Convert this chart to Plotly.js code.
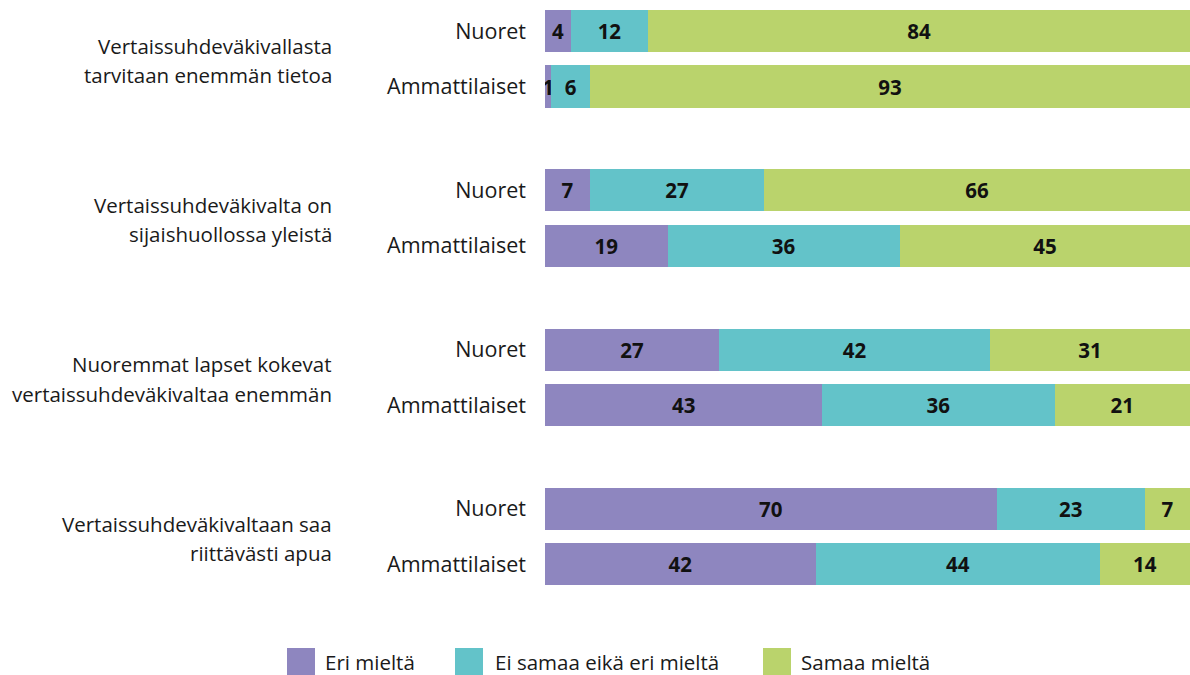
<!DOCTYPE html>
<html>
<head>
<meta charset="utf-8">
<script src="https://cdn.plot.ly/plotly-3.0.1.min.js"></script>
<style>html,body{margin:0;padding:0;background:#fff;}#chart{width:1190px;height:675px;}</style>
</head>
<body>
<div id="chart"></div>
<script>
// ---- Data ----
const statements = [
  "Vertaissuhdeväkivallasta<br>tarvitaan enemmän tietoa",
  "Vertaissuhdeväkivalta on<br>sijaishuollossa yleistä",
  "Nuoremmat lapset kokevat<br>vertaissuhdeväkivaltaa enemmän",
  "Vertaissuhdeväkivaltaan saa<br>riittävästi apua"
];
const respondents = ["Nuoret", "Ammattilaiset"];
const seriesNames = ["Eri mieltä", "Ei samaa eikä eri mieltä", "Samaa mieltä"];
const eriMielta = [4, 1, 7, 19, 27, 43, 70, 42];
const eiSamaaEikaEri = [12, 6, 27, 36, 42, 36, 23, 44];
const samaaMielta = [84, 93, 66, 45, 31, 21, 7, 14];
const seriesColors = ["#8e86bf", "#63c3c9", "#bad36c"];

// ---- Layout helpers ----
const W = 1190, H = 675;
const mL = 545, mR = 0, mT = 0, mB = 75;
const plotW = W - mL - mR, plotH = H - mT - mB;
const groupStep = 2.87;
const unitPx = 55.5;
const fontFam = "Open Sans, DejaVu Sans, sans-serif";
const labelSize = 20.5;

const yPos = [], yText = [];
statements.forEach((s, g) => {
  respondents.forEach((r, k) => {
    yPos.push(g * groupStep + k);
    yText.push(r);
  });
});
const topPad = 31 / unitPx;
const yRange = [(plotH - 31) / unitPx, -topPad];

const px2x = px => (px - mL) / plotW;
const px2y = py => 1 - (py - mT) / plotH;

const seriesData = [eriMielta, eiSamaaEikaEri, samaaMielta];
const traces = seriesData.map((vals, i) => ({
  type: "bar",
  orientation: "h",
  name: seriesNames[i],
  x: vals,
  y: yPos,
  width: 0.757,
  marker: {color: seriesColors[i], line: {width: 0}},
  text: vals.map(String),
  textposition: "inside",
  insidetextanchor: "middle",
  textangle: 0,
  constraintext: "none",
  textfont: {family: fontFam, size: 20.5, color: "#111", weight: "bold"},
  hoverinfo: "skip",
  showlegend: false
}));

// group labels: one annotation per line, 30px line spacing
const annotations = [];
const lineGap = 29.5 / unitPx;
statements.forEach((s, g) => {
  const lines = s.split("<br>");
  const mid = g * groupStep + 0.5 + 0.03;
  lines.forEach((ln, j) => {
    annotations.push({
      xref: "paper", yref: "y",
      x: px2x(334), y: mid + (j - (lines.length - 1) / 2) * lineGap,
      xanchor: "right", yanchor: "middle",
      align: "right",
      text: ln,
      showarrow: false,
      font: {family: fontFam, size: labelSize, color: "#1a1a1a"}
    });
  });
});

const shapes = [];
const legendSquares = [287, 455, 763];
const legendTexts = [323, 493, 799];
seriesNames.forEach((n, i) => {
  shapes.push({
    type: "rect", xref: "paper", yref: "paper",
    x0: px2x(legendSquares[i]), x1: px2x(legendSquares[i] + 28),
    y0: px2y(648), y1: px2y(676),
    fillcolor: seriesColors[i], line: {width: 0}
  });
  annotations.push({
    xref: "paper", yref: "paper",
    x: px2x(legendTexts[i]), y: px2y(662),
    xanchor: "left", yanchor: "middle",
    text: n, showarrow: false,
    font: {family: fontFam, size: labelSize, color: "#1a1a1a"}
  });
});

const layout = {
  width: W, height: H,
  margin: {l: mL, r: mR, t: mT, b: mB, pad: 0},
  barmode: "stack",
  paper_bgcolor: "#fff", plot_bgcolor: "#fff",
  uniformtext: {minsize: 20, mode: "show"},
  xaxis: {range: [0, 100], visible: false, fixedrange: true},
  yaxis: {
    range: yRange, tickmode: "array", tickvals: yPos, ticktext: yText,
    showgrid: false, zeroline: false, showline: false, ticks: "",
    ticklabelstandoff: 18,
    tickfont: {family: fontFam, size: 21.5, color: "#1a1a1a"},
    fixedrange: true
  },
  showlegend: false,
  annotations: annotations,
  shapes: shapes
};

Plotly.newPlot("chart", traces, layout, {displayModeBar: false, staticPlot: true});
</script>
</body>
</html>
